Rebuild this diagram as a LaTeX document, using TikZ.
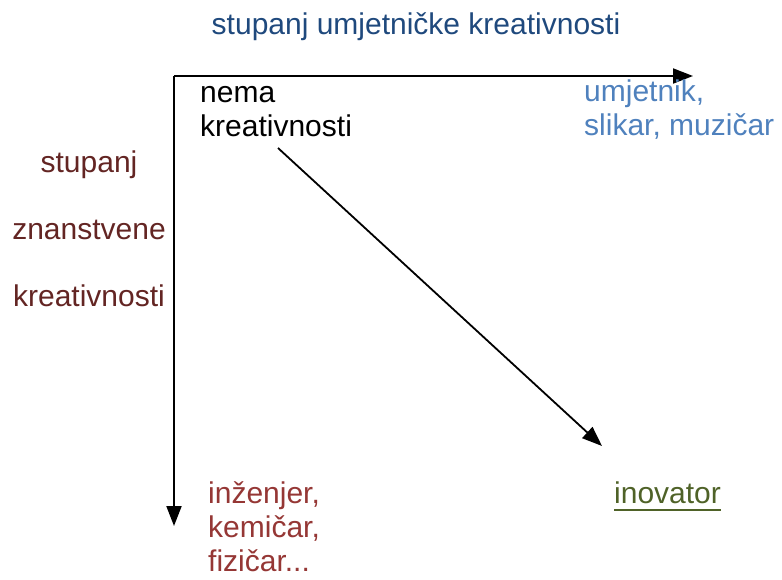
\documentclass[tikz,border=0pt]{standalone}
\usepackage{fontspec}
\setmainfont{Liberation Sans}
\usetikzlibrary{arrows.meta}
\definecolor{titleblue}{RGB}{31,73,125}
\definecolor{artblue}{RGB}{79,129,189}
\definecolor{scired}{RGB}{99,37,35}
\definecolor{engred}{RGB}{149,55,53}
\definecolor{innogreen}{RGB}{79,98,40}
\tikzset{
    lbl/.style={inner sep=0pt, font=\fontsize{30}{34}\selectfont, anchor=base west, align=left},
    axis/.style={line width=2pt, -{Triangle[length=20pt,width=15pt]}},
    trend/.style={line width=1.8pt, -{Triangle[length=20pt,width=15pt]}}
}

\begin{document}
\begin{tikzpicture}[x=1pt,y=-1pt]
            \useasboundingbox (0,0) rectangle (782,579);
            % axes
            \coordinate (origin) at (174,76);
            \coordinate (xend) at (693,76);
            \coordinate (yend) at (174,526);
            \draw[axis] (origin) -- (xend);
            \draw[axis] (origin) -- (yend);
            % labels
            \node[lbl, anchor=base, text=titleblue] (title) at (416,34) {stupanj umjetničke kreativnosti};
            \node[lbl] (none) at (200,136) {nema\\kreativnosti};
            \node[lbl, text=artblue] (artist) at (584,135) {umjetnik,\\ slikar, muzičar};
            \node[lbl, anchor=base, align=center, text=scired, font=\fontsize{30}{67}\selectfont] (science) at (89,306) {stupanj\\znanstvene\\kreativnosti};
            \node[lbl, text=engred] (engineer) at (208,571) {inženjer,\\kemičar,\\fizičar...};
            \node[lbl, text=innogreen] (innovator) at (614,503) {inovator};
            \draw[innogreen, line width=2.5pt] ([yshift=-7pt]innovator.base west) -- ([yshift=-7pt]innovator.base east);
            % diagonal
            \coordinate (dstart) at (278,148);
            \coordinate (dend) at (602,446);
            \draw[trend] (dstart) -- (dend);
        \end{tikzpicture}
\end{document}
